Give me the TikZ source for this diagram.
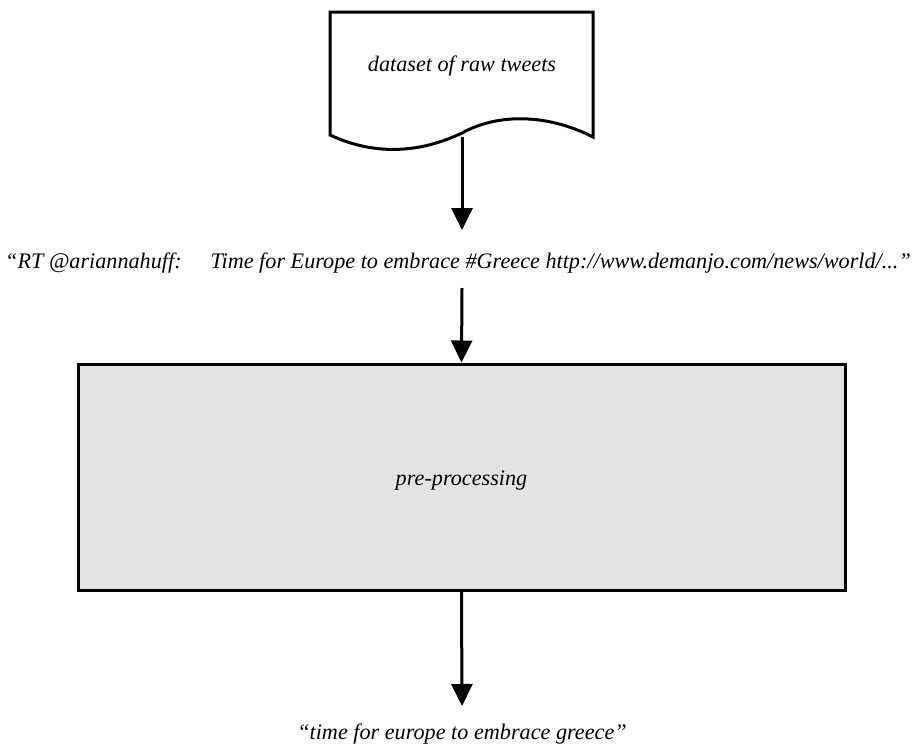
\documentclass[tikz,border=0pt]{standalone}
\usepackage{fontspec}
\setmainfont{Liberation Serif}
\usetikzlibrary{arrows.meta}
\begin{document}
\begin{tikzpicture}[x=1pt,y=-1pt,
  line width=3pt,
  flow/.style={-{Triangle[width=21pt,length=22pt]}},
  lbl/.style={font=\fontsize{22.2}{26}\selectfont\itshape, inner sep=0pt}]
\useasboundingbox (0,0) rectangle (916,744);
% document symbol
\draw[fill=white] (330,135) -- (330,12) -- (593,12) -- (593,137)
  .. controls (550,115) and (500,112) .. (462,133)
  .. controls (420,153) and (375,156) .. (330,135) -- cycle;
\node[lbl] (raw) at (462,66) {dataset of raw tweets};
\coordinate (rawbot) at (462,137);
\node[lbl] (tweet) at (458,263) {``RT @ariannahuff:\hspace{1.3em}Time for Europe to embrace \#Greece http://www.demanjo.com/news/world/...''};
\node[draw, fill=black!11, minimum width=767pt, minimum height=226pt, inner sep=0pt] (pre) at (461.5,477) {};
\node[lbl] at ([yshift=-4pt]pre.center) {pre-processing};
\node[lbl] (clean) at (462,734) {``time for europe to embrace greece''};
\coordinate (tin) at (462,230);
\coordinate (tout) at (462,288);
\coordinate (cin) at (462,706);
\draw[flow] (rawbot) -- (tin);
\draw[flow] (tout) -- (pre.north);
\draw[flow] (pre.south) -- (cin);
\end{tikzpicture}
\end{document}
